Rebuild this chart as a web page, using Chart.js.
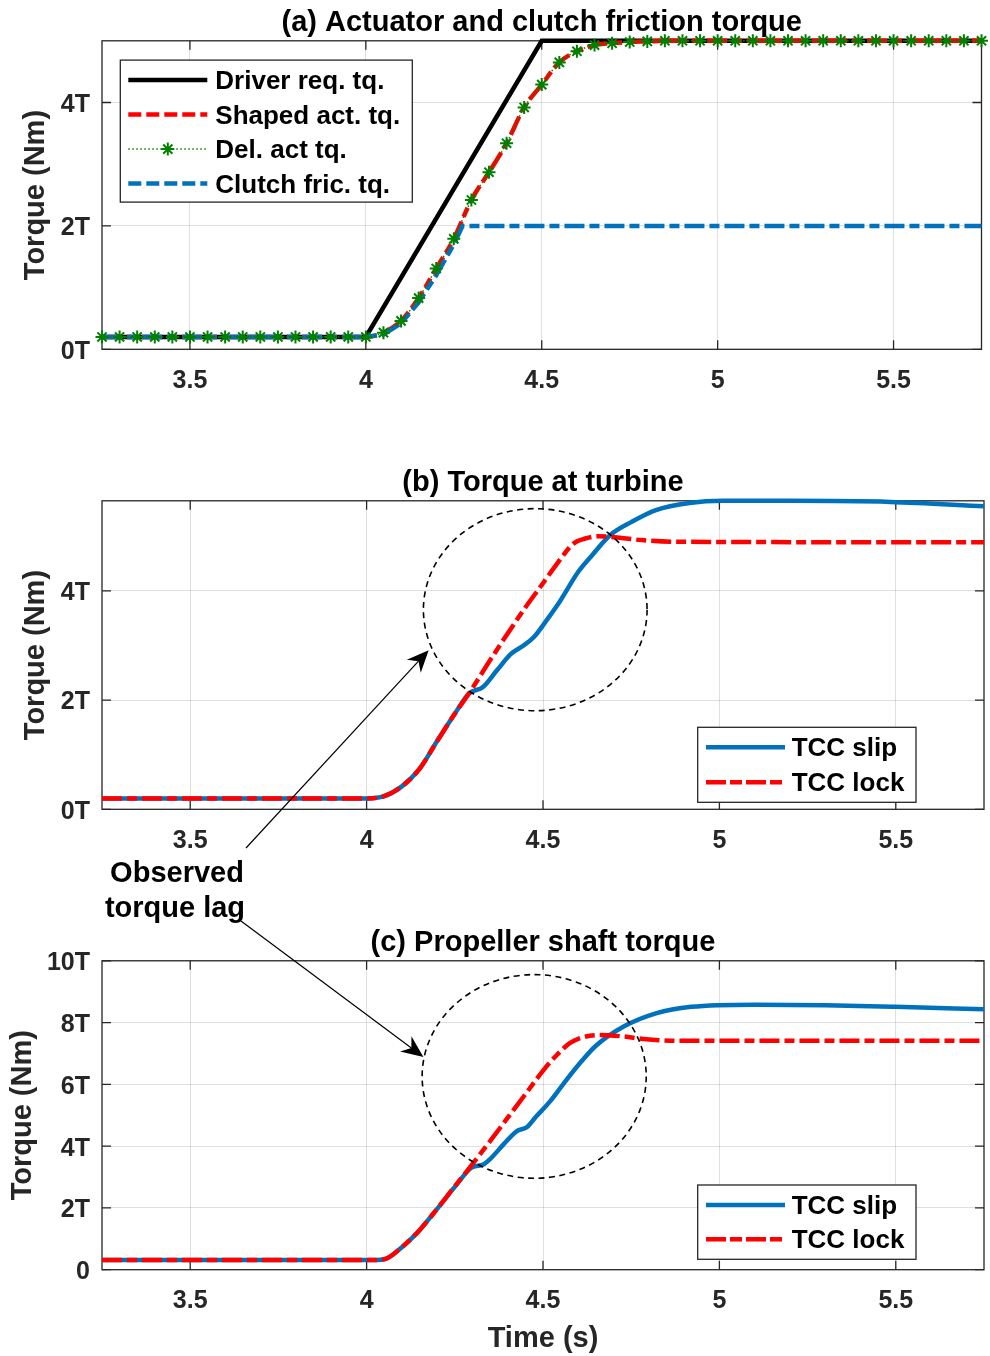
<!DOCTYPE html>
<html lang="en">
<head>
<meta charset="utf-8">
<title>Torque response</title>
<script src="https://cdn.jsdelivr.net/npm/chart.js@4.4.0/dist/chart.umd.min.js"></script>
<style>
  body { margin: 0; background: #fff; }
  #fig { position: relative; width: 990px; height: 1356px; }
  #fig canvas { position: absolute; left: 0; }
</style>
</head>
<body>
<div id="fig">
  <canvas id="actuator" width="990" height="400" style="top:0"></canvas>
  <canvas id="turbine" width="990" height="400" style="top:460px"></canvas>
  <canvas id="propshaft" width="990" height="436" style="top:920px"></canvas>
  <canvas id="notes" width="990" height="1356" style="top:0"></canvas>
</div>
<script>
// ---- shared axis ticks ----
const xTicks = [3.5, 4, 4.5, 5, 5.5];
const xTickLabels = ['3.5', '4', '4.5', '5', '5.5'];
const yTicksAB = [0, 2, 4];
const yTickLabelsAB = ['0T', '2T', '4T'];
const yTicksC = [0, 2, 4, 6, 8, 10];
const yTickLabelsC = ['0', '2T', '4T', '6T', '8T', '10T'];

// ---- (a) actuator and clutch friction torque ----
const timeA = [3.25, 3.30, 3.35, 3.40, 3.45, 3.50, 3.55, 3.60, 3.65, 3.70, 3.75, 3.80, 3.85, 3.90, 3.95, 4.00,
               4.05, 4.10, 4.15, 4.20, 4.25, 4.30, 4.35, 4.40, 4.45, 4.50, 4.55, 4.60, 4.65, 4.70, 4.75, 4.80,
               4.85, 4.90, 4.95, 5.00, 5.05, 5.10, 5.15, 5.20, 5.25, 5.30, 5.35, 5.40, 5.45, 5.50, 5.55, 5.60,
               5.65, 5.70, 5.75];
const shapedTq = [0.2, 0.2, 0.2, 0.2, 0.2, 0.2, 0.2, 0.2, 0.2, 0.2, 0.2, 0.2, 0.2, 0.2, 0.2, 0.2,
                  0.27, 0.46, 0.83, 1.31, 1.79, 2.42, 2.87, 3.34, 3.92, 4.29, 4.65, 4.83, 4.93, 4.96, 4.98, 4.99,
                  5.0, 5.0, 5.0, 5.0, 5.0, 5.0, 5.0, 5.0, 5.0, 5.0, 5.0, 5.0, 5.0, 5.0, 5.0, 5.0,
                  5.0, 5.0, 5.0];
const delTq = [0.2, 0.2, 0.2, 0.2, 0.2, 0.2, 0.2, 0.2, 0.2, 0.2, 0.2, 0.2, 0.2, 0.2, 0.2, 0.2,
               0.27, 0.46, 0.83, 1.31, 1.79, 2.42, 2.87, 3.34, 3.92, 4.29, 4.65, 4.83, 4.93, 4.96, 4.98, 4.99,
               5.0, 5.0, 5.0, 5.0, 5.0, 5.0, 5.0, 5.0, 5.0, 5.0, 5.0, 5.0, 5.0, 5.0, 5.0, 5.0,
               5.0, 5.0, 5.0];
const driverTime = [3.25, 4.00, 4.50, 5.75];
const driverTq = [0.2, 0.2, 5.0, 5.0];
const clutchTime = [3.25, 4.00, 4.05, 4.10, 4.15, 4.20, 4.25, 4.275, 5.75];
const clutchTq = [0.2, 0.2, 0.24, 0.42, 0.76, 1.20, 1.70, 2.0, 2.0];

// ---- (b) torque at turbine ----
const slipTimeB = [3.25, 4.00, 4.05, 4.10, 4.15, 4.20, 4.25, 4.29, 4.33, 4.37, 4.41, 4.445, 4.475, 4.51,
                   4.55, 4.60, 4.635, 4.69, 4.75, 4.82, 4.915, 5.01, 5.20, 5.485, 5.75];
const slipB = [0.2, 0.2, 0.24, 0.42, 0.74, 1.25, 1.75, 2.12, 2.24, 2.55, 2.85, 3.00, 3.16, 3.46,
               3.83, 4.35, 4.62, 5.02, 5.26, 5.48, 5.61, 5.65, 5.65, 5.63, 5.55];
const lockTimeB = [3.25, 4.00, 4.05, 4.10, 4.15, 4.20, 4.25, 4.29, 4.35, 4.445, 4.50, 4.54, 4.587, 4.62,
                   4.655, 4.69, 4.78, 4.87, 5.75];
const lockB = [0.2, 0.2, 0.24, 0.42, 0.74, 1.25, 1.75, 2.12, 2.73, 3.65, 4.14, 4.50, 4.87, 4.96,
               5.0, 4.99, 4.93, 4.90, 4.89];

// ---- (c) propeller shaft torque ----
const slipTimeC = [3.25, 4.00, 4.05, 4.10, 4.15, 4.20, 4.25, 4.30, 4.33, 4.35, 4.39, 4.425, 4.455, 4.48,
                   4.52, 4.56, 4.605, 4.65, 4.73, 4.82, 4.92, 5.10, 5.30, 5.50, 5.75];
const slipC = [0.31, 0.31, 0.34, 0.73, 1.28, 1.97, 2.68, 3.32, 3.40, 3.58, 4.08, 4.48, 4.62, 4.95,
               5.45, 6.05, 6.69, 7.25, 7.88, 8.30, 8.51, 8.58, 8.56, 8.51, 8.43];
const lockTimeC = [3.25, 4.00, 4.05, 4.10, 4.15, 4.20, 4.25, 4.30, 4.35, 4.40, 4.45, 4.502, 4.54, 4.577,
                   4.615, 4.662, 4.728, 4.785, 4.88, 5.75];
const lockC = [0.31, 0.31, 0.34, 0.73, 1.28, 1.97, 2.70, 3.42, 4.16, 4.92, 5.68, 6.47, 6.96, 7.34,
               7.53, 7.60, 7.55, 7.47, 7.41, 7.41];

// ---- annotation positions (data units of the chart they sit in) ----
const lagCircleB = { x: 4.478, y: 3.656, rx: 0.317, ry: 1.85 };
const lagCircleC = { x: 4.475, y: 6.256, rx: 0.3176, ry: 3.297 };
const arrowTipB = [4.176, 2.915];
const arrowTipC = [4.161, 6.885];

const FAMILY = '"Liberation Sans", Arial, Helvetica, sans-serif';
const AXIS = '#262626';
const GRID = 'rgba(38,38,38,0.15)';
const BLUE = '#0072BD';
const RED = '#FF0000';
const GREEN = '#008000';
const DASHDOT = [20, 5, 10, 5];

Chart.defaults.font.family = FAMILY;

const tickFont = { size: 25, weight: 'bold' };
const labelFont = { size: 29, weight: 'bold' };

const pts = (xs, ys) => xs.map((x, i) => ({ x: x, y: ys[i] }));

// axes frame with inward ticks on all four sides
const axesBox = {
  id: 'axesBox',
  beforeDatasetsDraw(chart) {
    const { ctx, chartArea: a, scales: { x, y } } = chart;
    ctx.save();
    ctx.strokeStyle = AXIS;
    ctx.lineWidth = 1.3;
    ctx.setLineDash([]);
    ctx.strokeRect(a.left, a.top, a.right - a.left, a.bottom - a.top);
    ctx.beginPath();
    x.ticks.forEach(t => {
      const px = x.getPixelForValue(t.value);
      ctx.moveTo(px, a.bottom); ctx.lineTo(px, a.bottom - 9);
      ctx.moveTo(px, a.top); ctx.lineTo(px, a.top + 9);
    });
    y.ticks.forEach(t => {
      const py = y.getPixelForValue(t.value);
      ctx.moveTo(a.left, py); ctx.lineTo(a.left + 9, py);
      ctx.moveTo(a.right, py); ctx.lineTo(a.right - 9, py);
    });
    ctx.stroke();
    ctx.restore();
  }
};

function drawStar(ctx, x, y, r) {
  ctx.beginPath();
  for (let k = 0; k < 4; k++) {
    const ang = k * Math.PI / 4;
    ctx.moveTo(x - r * Math.cos(ang), y - r * Math.sin(ang));
    ctx.lineTo(x + r * Math.cos(ang), y + r * Math.sin(ang));
  }
  ctx.stroke();
}

// boxed legend placed inside the plot area
const boxLegend = {
  id: 'boxLegend',
  afterDatasetsDraw(chart, args, o) {
    if (!o.items) return;
    const { ctx, chartArea: a } = chart;
    const left = o.corner === 'tl' ? a.left + o.dx : a.right - o.dx - o.w;
    const top = o.corner === 'tl' ? a.top + o.dy : a.bottom - o.dy - o.h;
    ctx.save();
    ctx.fillStyle = '#fff';
    ctx.fillRect(left, top, o.w, o.h);
    ctx.strokeStyle = AXIS;
    ctx.lineWidth = 1.3;
    ctx.strokeRect(left, top, o.w, o.h);
    o.items.forEach((idx, i) => {
      const ds = chart.data.datasets[idx];
      const y = top + o.rows[i];
      ctx.strokeStyle = ds.borderColor;
      ctx.lineWidth = ds.borderWidth;
      ctx.lineCap = 'butt';
      ctx.setLineDash(o.dashes[i] || []);
      ctx.beginPath();
      ctx.moveTo(left + o.lineX[0], y);
      ctx.lineTo(left + o.lineX[1], y);
      ctx.stroke();
      ctx.setLineDash([]);
      if (ds.pointRadius > 0) {
        ctx.strokeStyle = ds.pointBorderColor;
        ctx.lineWidth = ds.pointBorderWidth;
        drawStar(ctx, left + (o.lineX[0] + o.lineX[1]) / 2, y, ds.pointRadius);
      }
      ctx.fillStyle = '#000';
      ctx.font = 'bold 26px ' + FAMILY;
      ctx.textBaseline = 'middle';
      ctx.textAlign = 'left';
      ctx.fillText(ds.label, left + o.textX, y + 2);
    });
    ctx.restore();
  }
};

function xScale(height, withTitle) {
  return {
    type: 'linear', min: 3.25, max: 5.75,
    afterBuildTicks: s => { s.ticks = xTicks.map(v => ({ value: v })); },
    afterFit: s => { s.height = height; },
    grid: { color: GRID, lineWidth: 1, drawTicks: false },
    border: { display: false },
    ticks: { color: AXIS, font: tickFont, padding: 16.5, maxRotation: 0, autoSkip: false,
             callback: (v, i) => xTickLabels[i] },
    title: { display: withTitle, text: 'Time (s)', color: AXIS, font: labelFont,
             padding: { top: 0, bottom: 0 } }
  };
}

function yScale(max, ticks, labels, titlePad) {
  return {
    type: 'linear', min: 0, max: max,
    afterBuildTicks: s => { s.ticks = ticks.map(v => ({ value: v })); },
    afterFit: s => { s.width = 102; },
    grid: { color: GRID, lineWidth: 1, drawTicks: false },
    border: { display: false },
    ticks: { color: AXIS, font: tickFont, padding: 12, labelOffset: 2.5, autoSkip: false,
             callback: (v, i) => labels[i] },
    title: { display: true, text: 'Torque (Nm)', color: AXIS, font: labelFont,
             padding: { top: titlePad, bottom: 0 } }
  };
}

function baseOptions(title, xs, ys, legend) {
  return {
    responsive: false,
    animation: false,
    devicePixelRatio: 1,
    layout: { padding: { left: 0, right: 6, top: 0, bottom: 0 } },
    elements: { point: { radius: 0 } },
    plugins: {
      legend: { display: false },
      tooltip: { enabled: false },
      title: { display: true, fullSize: false, text: title, color: '#000', font: labelFont,
               padding: { top: 6, bottom: 0 } },
      boxLegend: legend
    },
    scales: { x: xs, y: ys }
  };
}

const chartA = new Chart(document.getElementById('actuator'), {
  type: 'line',
  data: {
    datasets: [
      { label: 'Driver req. tq.', data: pts(driverTime, driverTq), borderColor: '#000',
        borderWidth: 4.5, pointRadius: 0, tension: 0, order: 3, clip: false },
      { label: 'Shaped act. tq.', data: pts(timeA, shapedTq), borderColor: RED, borderWidth: 4.5,
        borderDash: DASHDOT, pointRadius: 0, cubicInterpolationMode: 'monotone', order: 2, clip: false },
      { label: 'Del. act tq.', data: pts(timeA, delTq), borderColor: GREEN, borderWidth: 1.5,
        borderDash: [1.5, 2.5], pointStyle: 'star', pointRadius: 6.5, pointBorderWidth: 2,
        pointBorderColor: GREEN, pointBackgroundColor: GREEN, cubicInterpolationMode: 'monotone',
        order: 0, clip: false },
      { label: 'Clutch fric. tq.', data: pts(clutchTime, clutchTq), borderColor: BLUE, borderWidth: 4.5,
        borderDash: DASHDOT, pointRadius: 0, tension: 0, order: 1, clip: false }
    ]
  },
  options: baseOptions('(a) Actuator and clutch friction torque',
    xScale(50.7, false), yScale(5, yTicksAB, yTickLabelsAB, 19),
    { corner: 'tl', dx: 18.3, dy: 19.3, w: 292, h: 142, rows: [20, 54.5, 89, 123.5],
      lineX: [8, 87], textX: 95, items: [0, 1, 2, 3], dashes: [null, [13, 5], [1.5, 2.5], [13, 5]] }),
  plugins: [axesBox, boxLegend]
});

const chartB = new Chart(document.getElementById('turbine'), {
  type: 'line',
  data: {
    datasets: [
      { label: 'TCC slip', data: pts(slipTimeB, slipB), borderColor: BLUE, borderWidth: 4.5,
        pointRadius: 0, cubicInterpolationMode: 'monotone', order: 1, clip: false },
      { label: 'TCC lock', data: pts(lockTimeB, lockB), borderColor: RED, borderWidth: 4.5,
        borderDash: DASHDOT, pointRadius: 0, cubicInterpolationMode: 'monotone', order: 0, clip: false }
    ]
  },
  options: baseOptions('(b) Torque at turbine',
    xScale(50.7, false), yScale(5.65, yTicksAB, yTickLabelsAB, 19),
    { corner: 'br', dx: 68, dy: 7, w: 218.3, h: 75, rows: [20, 55],
      lineX: [8.3, 87.3], textX: 94, items: [0, 1], dashes: [null, [20, 4, 12, 4]] }),
  plugins: [axesBox, boxLegend]
});

const chartC = new Chart(document.getElementById('propshaft'), {
  type: 'line',
  data: {
    datasets: [
      { label: 'TCC slip', data: pts(slipTimeC, slipC), borderColor: BLUE, borderWidth: 4.5,
        pointRadius: 0, cubicInterpolationMode: 'monotone', order: 1, clip: false },
      { label: 'TCC lock', data: pts(lockTimeC, lockC), borderColor: RED, borderWidth: 4.5,
        borderDash: DASHDOT, pointRadius: 0, cubicInterpolationMode: 'monotone', order: 0, clip: false }
    ]
  },
  options: baseOptions('(c) Propeller shaft torque',
    xScale(86.3, true), yScale(10, yTicksC, yTickLabelsC, 6),
    { corner: 'br', dx: 68, dy: 10.4, w: 218.3, h: 74.3, rows: [20, 54.3],
      lineX: [8.3, 87.3], textX: 94, items: [0, 1], dashes: [null, [20, 4, 12, 4]] }),
  plugins: [axesBox, boxLegend]
});

// ---- "Observed torque lag" call-out across panels (b) and (c) ----
const notes = document.getElementById('notes').getContext('2d');

function toPage(chart, top, xv, yv) {
  return [chart.scales.x.getPixelForValue(xv), top + chart.scales.y.getPixelForValue(yv)];
}

function dashedEllipse(chart, top, c) {
  const [cx, cy] = toPage(chart, top, c.x, c.y);
  const [ex] = toPage(chart, top, c.x + c.rx, c.y);
  const [, ey] = toPage(chart, top, c.x, c.y + c.ry);
  notes.save();
  notes.strokeStyle = '#000';
  notes.lineWidth = 1.6;
  notes.setLineDash([6, 4.5]);
  notes.beginPath();
  notes.ellipse(cx, cy, Math.abs(ex - cx), Math.abs(cy - ey), 0, 0, Math.PI * 2);
  notes.stroke();
  notes.restore();
}

function arrow(x0, y0, x1, y1) {
  const a = Math.atan2(y1 - y0, x1 - x0);
  const ux = Math.cos(a), uy = Math.sin(a);
  const len = 22, half = 9.5, notch = 15;
  const bx = x1 - ux * len, by = y1 - uy * len;
  const nx = x1 - ux * notch, ny = y1 - uy * notch;
  notes.save();
  notes.strokeStyle = '#000';
  notes.fillStyle = '#000';
  notes.lineWidth = 1.2;
  notes.beginPath();
  notes.moveTo(x0, y0);
  notes.lineTo(nx, ny);
  notes.stroke();
  notes.beginPath();
  notes.moveTo(x1, y1);
  notes.lineTo(bx - uy * half, by + ux * half);
  notes.lineTo(nx, ny);
  notes.lineTo(bx + uy * half, by - ux * half);
  notes.closePath();
  notes.fill();
  notes.restore();
}

dashedEllipse(chartB, 460, lagCircleB);
dashedEllipse(chartC, 920, lagCircleC);

const tipB = toPage(chartB, 460, arrowTipB[0], arrowTipB[1]);
const tipC = toPage(chartC, 920, arrowTipC[0], arrowTipC[1]);
arrow(246, 848, tipB[0], tipB[1]);
arrow(241, 921, tipC[0], tipC[1]);

notes.fillStyle = '#000';
notes.font = 'bold 29px ' + FAMILY;
notes.textAlign = 'center';
notes.textBaseline = 'alphabetic';
notes.fillText('Observed', 177, 882);
notes.fillText('torque lag', 175, 917);
</script>
</body>
</html>
